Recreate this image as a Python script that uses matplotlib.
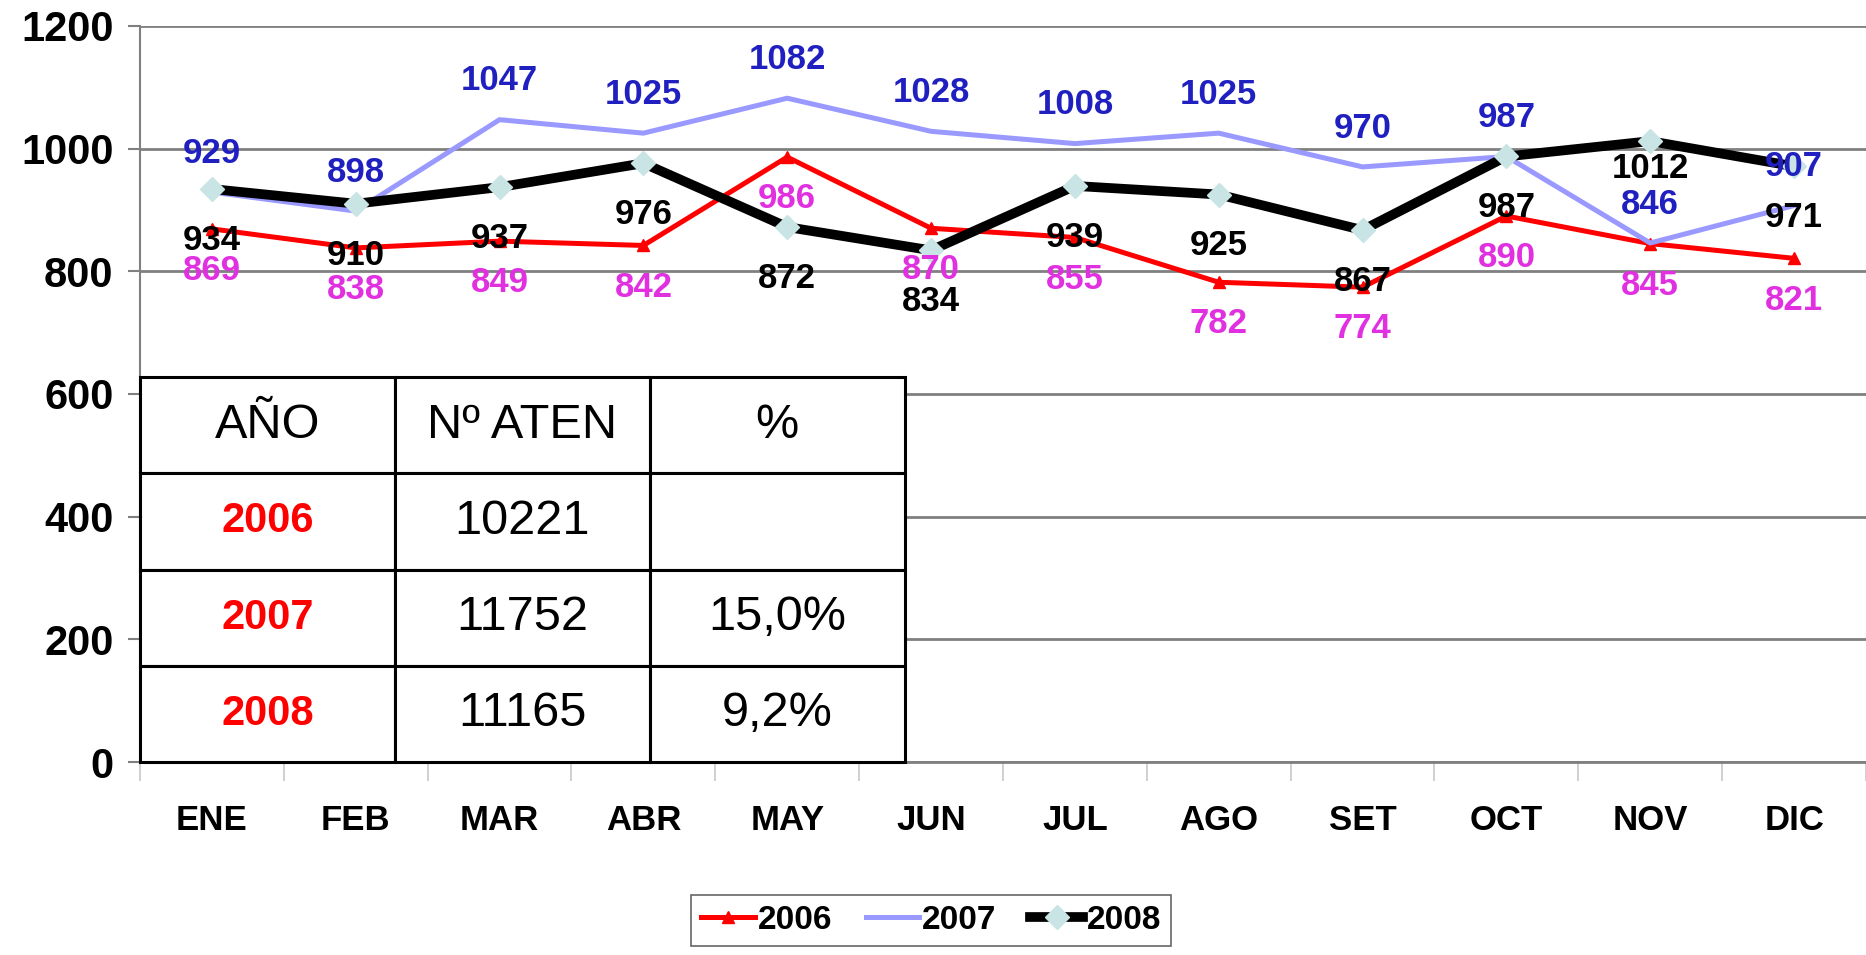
import matplotlib.pyplot as plt
import numpy as np

meses = ['ENE', 'FEB', 'MAR', 'ABR', 'MAY', 'JUN', 'JUL', 'AGO', 'SET', 'OCT', 'NOV', 'DIC']
v2006 = [869, 838, 849, 842, 986, 870, 855, 782, 774, 890, 845, 821]
v2007 = [929, 898, 1047, 1025, 1082, 1028, 1008, 1025, 970, 987, 846, 907]
v2008 = [934, 910, 937, 976, 872, 834, 939, 925, 867, 987, 1012, 971]

tabla_anios = ['2006', '2007', '2008']
tabla_aten = ['10221', '11752', '11165']
tabla_pct = ['', '15,0%', '9,2%']
tabla_cab = ['AÑO', 'Nº ATEN', '%']

plt.rcParams['font.family'] = ['Liberation Sans', 'DejaVu Sans']

fig = plt.figure(figsize=(18.66, 9.55), dpi=100)
ax = fig.add_axes([0.075, 0.202, 0.925, 0.771])

x = np.arange(len(meses))
l1, = ax.plot(x, v2006, color='#FF0000', lw=3.6, marker='^', ms=9, zorder=3)
l2, = ax.plot(x, v2007, color='#9999FF', lw=3.6, zorder=3)
l3, = ax.plot(x, v2008, color='black', lw=7, marker='D', ms=12,
              mfc='#C8E4E4', mec='#C8E4E4', zorder=4)

# etiquetas de datos
for i in range(len(meses)):
    ax.annotate(str(v2007[i]), (x[i], v2007[i]), xytext=(0, 28), textcoords='offset points',
                ha='center', va='center', fontsize=25, fontweight='bold', color='#2020C0', zorder=6)
    ax.annotate(str(v2006[i]), (x[i], v2006[i]), xytext=(0, -30), textcoords='offset points',
                ha='center', va='center', fontsize=25, fontweight='bold', color='#E030E0', zorder=6)
    # en NOV la etiqueta negra queda mas pegada a la linea (como en el original)
    dy = -20 if i == 10 else -37
    ax.annotate(str(v2008[i]), (x[i], v2008[i]), xytext=(0, dy), textcoords='offset points',
                ha='center', va='center', fontsize=25, fontweight='bold', color='black', zorder=6)

ax.set_xlim(-0.5, len(meses) - 0.5)
ax.set_ylim(0, 1200)
ax.set_yticks(range(0, 1201, 200))
ax.set_xticks(x)
ax.set_xticklabels(meses)
ax.set_xticks(np.arange(-0.5, len(meses), 1), minor=True)
ax.tick_params(axis='x', which='major', length=0, pad=30, labelsize=25)
ax.tick_params(axis='x', which='minor', length=14, width=1.2, color='#C8C8C8')
ax.tick_params(axis='y', length=9, width=1.5, color='#808080', pad=10, labelsize=30)
for t in ax.get_xticklabels() + ax.get_yticklabels():
    t.set_fontweight('bold')

ax.grid(axis='y', color='#808080', lw=2)
ax.set_axisbelow(True)
for s in ['top', 'right']:
    ax.spines[s].set_visible(False)
ax.spines['left'].set_color('#808080')
ax.spines['left'].set_linewidth(1.5)
ax.spines['bottom'].set_color('#808080')
ax.spines['bottom'].set_linewidth(2)

# tabla resumen
celdas = [tabla_cab] + [[tabla_anios[i], tabla_aten[i], tabla_pct[i]] for i in range(3)]
tab = ax.table(cellText=celdas, bbox=[0, 0, 0.443, 0.523], cellLoc='center')
tab.auto_set_font_size(False)
tab.set_zorder(10)
for (r, c), cell in tab.get_celld().items():
    cell.set_edgecolor('black')
    cell.set_linewidth(2.2)
    cell.set_facecolor('white')
    txt = cell.get_text()
    if r > 0 and c == 0:
        txt.set_color('#FF0000')
        txt.set_fontweight('bold')
        txt.set_fontsize(30)
    else:
        txt.set_fontsize(35)

leg = fig.legend([l1, l2, l3], ['2006', '2007', '2008'], loc='center', bbox_to_anchor=(0.499, 0.036),
                 ncol=3, frameon=True, fancybox=False, edgecolor='#404040', handlelength=1.6,
                 handletextpad=0.1, columnspacing=1.0, borderpad=0.3, numpoints=1,
                 prop={'weight': 'bold', 'size': 24})
leg.get_frame().set_linewidth(1.2)

fig.savefig('out.png', dpi=100)
